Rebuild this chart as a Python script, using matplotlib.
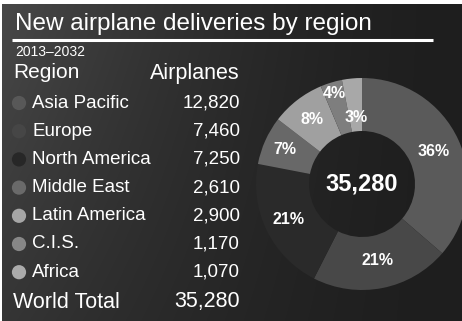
import numpy as np
import matplotlib
matplotlib.use("Agg")
import matplotlib.pyplot as plt

plt.rcParams['font.family'] = ['Liberation Sans', 'DejaVu Sans']

# Data
regions = ['Asia Pacific', 'Europe', 'North America', 'Middle East',
           'Latin America', 'C.I.S.', 'Africa']
airplanes = [12820, 7460, 7250, 2610, 2900, 1170, 1070]
pct_labels = ['36%', '21%', '21%', '7%', '8%', '4%', '3%']
world_total = 35280
period = '2013\u20132032'

# Styles
colors = ['#5a5a5a', '#484848', '#2a2a2a', '#686868', '#a0a0a0', '#7e7e7e', '#a8a8a8']
dot_colors = ['#585858', '#464646', '#272727', '#6a6a6a', '#a6a6a6', '#878787', '#ababab']
label_r = [0.74, 0.74, 0.77, 0.80, 0.77, 0.89, 0.63]

W, H = 462, 321
fig = plt.figure(figsize=(W / 100, H / 100), dpi=100, facecolor='white')

# background gradient (white strip on top and left)
bg = fig.add_axes([2 / W, 0, 1 - 2 / W, (H - 4) / H])
xx, yy = np.meshgrid(np.linspace(0, 1, 200), np.linspace(0, 1, 150))
shade = 0x1e + 0x2a * np.clip(1 - xx, 0, 1) ** 1.6 * (1 - 0.45 * yy)
img = np.dstack([shade / 255] * 3)
bg.imshow(img, aspect='auto', extent=[0, 1, 1, 0], interpolation='bilinear')
bg.set_xlim(0, 1)
bg.set_ylim(1, 0)
bg.axis('off')

# overlay axes in pixel coordinates for text
ax = fig.add_axes([0, 0, 1, 1])
ax.set_xlim(0, W)
ax.set_ylim(H, 0)
ax.axis('off')
ax.patch.set_alpha(0)

ax.text(15, 24, 'New airplane deliveries by region', color='white',
        fontsize=17.5, va='center', ha='left')
ax.plot([12, 433], [40, 40], color='white', lw=2.2, solid_capstyle='butt')
ax.text(15, 52, period, color='white', fontsize=10, va='center', ha='left')
ax.text(13, 73, 'Region', color='white', fontsize=15, va='center', ha='left')
ax.text(240, 73, 'Airplanes', color='white', fontsize=15.5, va='center', ha='right')

y0, dy = 103, 28.2
for i, (reg, val) in enumerate(zip(regions, airplanes)):
    y = y0 + i * dy
    ax.scatter([19], [y], s=105, color=dot_colors[i], edgecolors='none')
    ax.text(32, y, reg, color='white', fontsize=13.5, va='center', ha='left')
    ax.text(240, y, f'{val:,}', color='white', fontsize=13.5, va='center', ha='right')

ax.text(13, 302, 'World Total', color='white', fontsize=15.5, va='center', ha='left')
ax.text(240, 302, f'{world_total:,}', color='white', fontsize=15.5, va='center', ha='right')

# donut chart
cx, cy, R = 362, 184, 106
pie_ax = fig.add_axes([(cx - R) / W, (H - cy - R) / H, 2 * R / W, 2 * R / H])
pie_ax.pie(airplanes, colors=colors, startangle=90, counterclock=False,
           radius=1, wedgeprops=dict(width=0.5, linewidth=0))
pie_ax.set_xlim(-1, 1)
pie_ax.set_ylim(-1, 1)
pie_ax.set_aspect('auto')
pie_ax.axis('off')

total = sum(airplanes)
start = 90.0
for val, lab, r in zip(airplanes, pct_labels, label_r):
    span = val / total * 360
    mid = np.radians(start - span / 2)
    pie_ax.text(r * np.cos(mid), r * np.sin(mid), lab, color='white',
                fontsize=11.5, fontweight='bold', ha='center', va='center')
    start -= span

pie_ax.text(0, 0, f'{world_total:,}', color='white', fontsize=17,
            fontweight='bold', ha='center', va='center')

fig.savefig('out.png', dpi=100, facecolor=fig.get_facecolor())
